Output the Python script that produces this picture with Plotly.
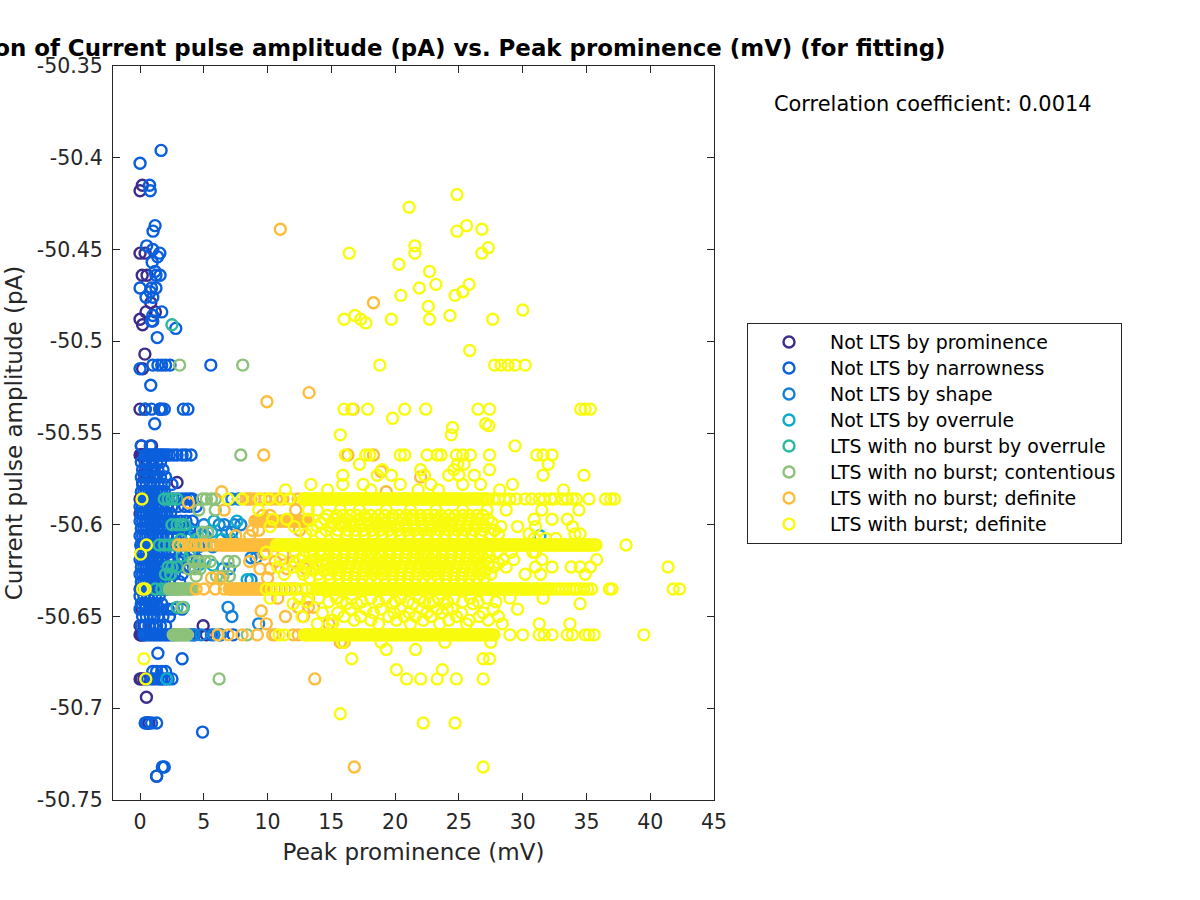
import plotly.graph_objects as go

class_names = ["Not LTS by prominence", "Not LTS by narrowness", "Not LTS by shape", "Not LTS by overrule",
               "LTS with no burst by overrule", "LTS with no burst; contentious", "LTS with no burst; definite",
               "LTS with burst; definite"]
class_colors = ["#3B2C8E", "#0A5FDC", "#1580D8", "#0CACCC", "#2EB8A0", "#8CC27A", "#FDBD3C", "#F9FB0E"]
x_ticks = [0, 5, 10, 15, 20, 25, 30, 35, 40, 45]
y_ticks = [-50.75, -50.7, -50.65, -50.6, -50.55, -50.5, -50.45, -50.4, -50.35]
y_tick_labels = ["-50.75", "-50.7", "-50.65", "-50.6", "-50.55", "-50.5", "-50.45", "-50.4", "-50.35"]

prominence_rows = {
    -50.415: [0.18], -50.418: [0.0], -50.452: [0.0, 0.4], -50.464: [0.17, 0.55], -50.479: [0.84],
    -50.484: [0.47, 1.2], -50.488: [0.0], -50.491: [0.2], -50.507: [0.38], -50.515: [0.2],
    -50.537: [0.0, 0.4, 1.57], -50.557: [0.1, 0.9], -50.562: [0.0, 0.05, 0.1, 0.2, 0.3],
    -50.568: [0.5, 1.0], -50.572: [0.3, 1.2], -50.577: [0.2, 0.8, 2.9], -50.586: [0.0, 0.05, 0.1],
    -50.594: [0.0, 0.2], -50.635: [0.0, 0.1], -50.645: [0.1, 0.4], -50.655: [0.0, 0.3, 4.95],
    -50.66: [0.0, 0.05, 0.1, 0.2, 0.3, 5.2], -50.684: [0.0, 0.1, 0.3, 0.5, 1.7], -50.694: [0.5],
    -50.708: [0.55, 0.7], -50.737: [1.3],
}
narrow_rows = {
    -50.396: [1.65], -50.403: [0.0], -50.415: [0.75], -50.418: [0.8], -50.437: [1.18], -50.44: [1.02],
    -50.448: [0.52], -50.45: [1.0], -50.452: [1.55], -50.454: [1.38], -50.457: [0.95], -50.462: [1.18],
    -50.464: [1.25, 1.57], -50.471: [0.0, 0.9, 1.25], -50.473: [0.8], -50.476: [0.47, 1.0], -50.484: [1.7],
    -50.486: [1.0], -50.489: [1.0, 0.9], -50.493: [2.8], -50.498: [1.35], -50.513: [1.0, 1.4, 1.7, 2.0, 2.35, 5.55],
    -50.515: [0.0], -50.524: [0.84], -50.537: [0.4, 0.9, 1.55, 1.7, 1.9, 3.4, 3.75], -50.545: [1.15],
    -50.557: [0.1, 0.8],
    -50.562: [0.4, 0.55, 0.7, 0.85, 1.0, 1.15, 1.3, 1.45, 1.6, 1.75, 1.9, 2.1, 2.3, 2.6, 2.9, 3.3, 3.6, 4.0],
    -50.566: [0.1, 0.4, 0.7, 1.0, 1.3, 1.6], -50.57: [0.2, 0.5, 0.8, 1.1, 1.4, 1.8],
    -50.574: [0.1, 0.4, 0.7, 1.0, 1.3, 1.6, 2.0], -50.578: [0.2, 0.5, 0.8, 1.1, 1.4, 1.9, 2.5],
    -50.582: [0.1, 0.3, 0.5, 0.7, 0.9, 1.1, 1.3, 1.5, 1.7, 1.9],
    -50.586: [0.2, 0.35, 0.5, 0.65, 0.8, 0.95, 1.1, 1.25, 1.4, 1.55, 1.7, 1.85, 2.0, 2.2, 2.6, 3.0, 3.3, 3.6, 3.9, 4.1],
    -50.59: [0.0, 0.2, 0.4, 0.6, 0.8, 1.0, 1.2, 1.4, 1.6, 1.8, 2.1, 2.5, 3.0, 3.5, 3.9, 4.4],
    -50.594: [0.1, 0.3, 0.5, 0.7, 0.9, 1.1, 1.3, 1.5, 1.7, 1.9, 2.1, 2.4],
    -50.598: [0.0, 0.2, 0.4, 0.6, 0.8, 1.0, 1.2, 1.4, 1.6, 1.8, 2.0, 2.3, 2.7, 3.2, 3.6, 4.1],
    -50.602: [0.1, 0.3, 0.5, 0.7, 0.9, 1.1, 1.3, 1.5, 1.7, 1.9, 2.2, 2.6, 3.0, 3.4, 3.9],
    -50.606: [0.0, 0.2, 0.4, 0.6, 0.8, 1.0, 1.2, 1.4, 1.6, 1.8, 2.1, 2.6, 3.0, 3.6, 4.0],
    -50.611: [0.05, 0.2, 0.35, 0.5, 0.65, 0.8, 0.95, 1.1, 1.25, 1.4, 1.55, 1.7, 1.85, 2.0, 2.2],
    -50.615: [0.1, 0.3, 0.5, 0.7, 0.9, 1.1, 1.3, 1.5, 1.7, 1.9, 2.3, 2.8, 3.4, 4.2],
    -50.619: [0.0, 0.2, 0.4, 0.6, 0.8, 1.0, 1.2, 1.4, 1.6, 1.8, 2.2, 2.6, 3.2, 3.8, 4.5],
    -50.623: [0.1, 0.3, 0.5, 0.7, 0.9, 1.1, 1.3, 1.5, 1.7, 1.9, 2.3, 2.8, 3.5, 3.9, 4.2],
    -50.627: [0.0, 0.2, 0.4, 0.6, 0.8, 1.0, 1.2, 1.4, 1.6, 1.8, 2.2, 2.7, 3.3],
    -50.631: [0.1, 0.3, 0.5, 0.7, 0.9, 1.1, 1.3, 1.5, 1.7, 1.9, 2.3, 3.1],
    -50.635: [0.05, 0.2, 0.35, 0.5, 0.65, 0.8, 0.95, 1.1, 1.25, 1.4, 1.55, 1.7, 1.85, 2.0, 2.2],
    -50.639: [0.0, 0.3, 0.6, 0.9, 1.2, 1.5], -50.643: [0.1, 0.4, 0.7, 1.0, 1.3, 1.7],
    -50.646: [0.0, 0.4, 0.8, 1.2, 1.6, 2.2, 2.6, 3.3],
    -50.65: [0.2, 0.5, 0.8, 1.1, 1.4, 1.8, 2.3], -50.655: [0.1, 0.4, 0.7, 1.0, 1.3, 1.6, 2.0],
    -50.66: [0.3, 0.45, 0.6, 0.75, 0.9, 1.05, 1.2, 1.35, 1.5, 1.65, 1.8, 1.95, 2.1, 2.25, 2.4, 2.6, 3.9, 4.1, 4.3, 5.6, 6.3, 7.3],
    -50.67: [1.4], -50.673: [3.3], -50.68: [1.0, 1.3, 1.7, 2.0],
    -50.684: [0.6, 0.9, 1.1, 1.4, 1.6, 1.9, 2.2, 2.5], -50.708: [0.4, 0.55, 0.9, 1.3], -50.713: [4.9],
    -50.732: [1.75, 1.9], -50.737: [1.3],
}
shape_rows = {
    -50.586: [7.2, 7.7], -50.6: [5.0, 6.2, 6.6, 7.4, 7.9], -50.604: [5.3, 6.8, 7.2], -50.606: [4.8, 5.1],
    -50.612: [4.6, 5.7], -50.618: [8.7, 9.1], -50.624: [6.5, 7.0], -50.63: [8.7], -50.645: [6.9], -50.65: [7.2],
    -50.654: [9.3], -50.66: [4.2, 4.8, 5.8, 6.3],
}
overrule_rows = {
    -50.606: [31.35], -50.598: [5.8, 7.6], -50.608: [6.4, 7.2], -50.604: [4.3, 5.6],
    -50.622: [4.6, 5.7], -50.63: [8.4], -50.684: [2.1],
}
no_burst_overrule_rows = {
    -50.491: [2.5], -50.586: [1.9, 2.2, 2.5, 2.9], -50.6: [2.5, 2.9, 3.2, 3.5], -50.611: [1.5, 1.9, 2.3, 2.7, 3.0],
    -50.623: [2.2, 2.5, 2.9], -50.627: [2.0, 2.4], -50.635: [1.2, 1.7, 2.1, 2.5, 2.9], -50.645: [2.9, 3.4],
    -50.608: [3.2, 4.4], -50.617: [3.3, 3.9],
}
contentious_rows = {
    -50.513: [3.1, 8.05], -50.562: [7.9], -50.586: [4.9, 5.2, 5.6, 5.9], -50.592: [4.6, 5.9], -50.604: [4.9, 5.3],
    -50.611: [3.0, 3.4, 3.9, 4.2, 5.0], -50.62: [4.2, 4.6, 5.1, 5.5, 6.9, 7.4], -50.624: [3.8, 4.3, 4.7],
    -50.628: [4.4, 6.0, 6.5, 7.0], -50.635: [2.3, 2.45, 2.6, 2.75, 2.9, 3.05, 3.2, 3.35, 3.5, 3.65, 3.8, 3.95, 4.1],
    -50.645: [3.3], -50.66: [2.6, 2.7, 2.8, 2.9, 3.0, 3.1, 3.2, 3.3, 3.4, 3.5, 3.6, 3.7, 8.4], -50.684: [6.2],
}
no_burst_definite_rows = {
    -50.439: [11.0], -50.479: [18.3], -50.528: [13.25], -50.533: [9.95], -50.537: [16.7], -50.562: [9.7, 16.3, 18.3],
    -50.571: [18.9], -50.574: [22.0], -50.582: [6.4, 19.3],
    -50.586: [8.3, 8.5, 8.7, 9.0, 9.4, 9.8, 10.3, 10.7, 11.2, 11.8, 12.4, 12.9],
    -50.588: [3.8], -50.592: [6.6, 12.2], -50.595: [9.6, 10.2],
    -50.598: [9.0, 9.15, 9.3, 9.45, 9.6, 9.75, 9.9, 10.05, 10.2, 10.35, 10.5, 10.65, 10.8, 10.95, 11.1, 11.25, 11.4, 11.55,
              11.7, 11.85, 12.0, 12.15, 12.3, 12.45, 12.6, 12.75, 12.9, 13.05],
    -50.603: [8.8, 9.3, 12.5],
    -50.606: [7.5, 8.6],
    -50.611: [3.0, 3.4, 3.8, 4.0, 4.4, 4.8, 5.2, 5.6, 6.0, 6.3, 6.45, 6.6, 6.75, 6.9, 7.05, 7.2, 7.35, 7.5, 7.65, 7.8, 7.95, 8.1, 8.25, 8.4,
              8.55, 8.7, 8.85, 9.0, 9.15, 9.3, 9.45, 9.6, 9.75, 9.9, 10.05, 10.2, 10.35, 10.5, 10.65, 11.0, 11.6, 12.4, 12.8, 13.2],
    -50.616: [9.7, 11.2], -50.62: [8.6, 10.6, 12.0], -50.624: [9.4, 10.2, 11.5, 13.0, 13.6], -50.629: [5.6, 6.3, 10.0],
    -50.635: [4.4, 5.0, 5.9, 6.6, 7.0, 7.15, 7.3, 7.45, 7.6, 7.75, 7.9, 8.05, 8.2, 8.35, 8.5, 8.65, 8.8, 8.95, 9.1, 9.25, 9.4,
              9.55, 9.7, 9.9, 10.2, 10.6, 11.0, 11.4, 11.8, 12.2],
    -50.64: [10.8, 13.2], -50.645: [12.4, 13.2, 13.6], -50.647: [9.5], -50.65: [11.4, 12.8], -50.654: [9.9, 14.8],
    -50.66: [6.1, 6.9, 8.0, 9.2, 10.4, 10.6, 12.0, 12.4, 13.0], -50.664: [15.7, 16.0], -50.684: [13.7],
    -50.732: [16.8],
}
burst_rows = {
    -50.42: [24.85], -50.427: [21.1], -50.437: [25.6], -50.439: [26.8], -50.44: [24.85], -50.448: [21.55], -50.449: [27.3],
    -50.452: [16.4, 21.55, 26.8], -50.458: [20.3], -50.462: [22.7], -50.469: [23.2, 25.8], -50.471: [21.9], -50.473: [25.3],
    -50.475: [20.45, 24.7], -50.481: [22.6], -50.483: [30.0], -50.486: [16.85, 24.3], -50.488: [16.0, 17.3, 19.7, 22.7, 27.65],
    -50.49: [17.7], -50.505: [25.85], -50.513: [18.8, 27.8, 28.3, 28.85, 29.4, 30.2],
    -50.537: [16.0, 16.6, 17.85, 20.75, 22.4, 26.5, 27.4, 34.55, 34.9, 35.3], -50.542: [19.8], -50.545: [27.1], -50.546: [27.35],
    -50.547: [24.5], -50.551: [15.7, 24.4], -50.557: [29.4],
    -50.562: [16.1, 17.7, 18.0, 20.4, 20.75, 22.5, 23.3, 23.6, 24.8, 25.3, 25.9, 27.4, 31.1, 31.6, 32.3],
    -50.567: [17.2, 24.9, 25.4, 32.0], -50.57: [19.0, 22.0, 24.6, 27.4],
    -50.573: [15.9, 18.6, 19.7, 22.3, 24.2, 25.0, 26.2, 31.6, 34.8], -50.578: [13.4, 15.9, 17.5, 20.4, 22.8, 25.3, 26.7, 29.2],
    -50.581: [11.4, 14.7, 18.1, 21.8, 23.4, 28.2, 33.2],
    -50.586: [0.15, 6.9, 8.0, 9.4, 10.1, 11.0, 11.7, 12.8, 12.95, 13.1, 13.25, 13.4, 13.55, 13.7, 13.85, 14.0, 14.15, 14.3, 14.45, 14.6, 14.75,
              14.9, 15.05, 15.2, 15.35, 15.5, 15.65, 15.8, 15.95, 16.1, 16.25, 16.4, 16.55, 16.7, 16.85, 17.0, 17.15, 17.3, 17.45,
              17.6, 17.75, 17.9, 18.05, 18.2, 18.35, 18.5, 18.65, 18.8, 18.95, 19.1, 19.25, 19.4, 19.55, 19.7, 19.85, 20.0, 20.15,
              20.3, 20.45, 20.6, 20.75, 20.9, 21.05, 21.2, 21.35, 21.5, 21.65, 21.8, 21.95, 22.1, 22.25, 22.4, 22.55, 22.7, 22.85,
              23.0, 23.15, 23.3, 23.45, 23.6, 23.75, 23.9, 24.05, 24.2, 24.35, 24.5, 24.65, 24.8, 24.95, 25.1, 25.3, 25.5, 25.7,
              25.9, 26.1, 26.3, 26.5, 26.7, 26.9, 27.1, 27.3, 27.7, 28.1, 28.6, 29.0, 29.5, 30.2, 30.7, 31.3, 31.7, 32.2, 32.5,
              33.1, 33.5, 33.9, 34.2, 35.2, 36.5, 36.9, 37.2],
    -50.592: [9.3, 13.2, 13.9, 15.7, 17.2, 19.3, 21.2, 23.2, 25.3, 27.2, 28.7, 31.5, 34.4],
    -50.595: [14.7, 15.4, 15.9, 16.5, 17.0, 17.6, 18.1, 18.7, 19.2, 19.8, 20.3, 20.9, 21.4, 22.0, 22.5, 23.1, 23.6, 24.2, 24.7, 25.3, 25.8, 26.4, 26.9],
    -50.597: [10.4, 11.5, 13.2, 14.5, 15.3, 16.2, 17.1, 17.8, 18.4, 19.0, 19.8, 20.6, 21.3, 22.0, 22.6, 23.3, 23.9, 24.5, 25.2, 25.9,
              26.5, 27.3, 30.9, 32.3, 33.5],
    -50.599: [14.2, 15.0, 15.6, 16.1, 16.7, 17.3, 17.9, 18.5, 19.1, 19.7, 20.3, 20.9, 21.5, 22.1, 22.7, 23.3, 23.9, 24.5, 25.1, 25.7, 26.3, 26.9, 27.6],
    -50.601: [10.2, 12.1, 13.9, 15.0, 15.9, 16.6, 17.3, 18.0, 18.7, 19.4, 20.1, 20.8, 21.5, 22.2, 22.9, 23.6, 24.3, 25.0, 25.7, 26.4,
              27.0, 28.3, 29.6, 31.0, 33.9],
    -50.603: [13.5, 14.6, 15.5, 16.3, 16.9, 17.5, 18.2, 18.8, 19.5, 20.2, 20.9, 21.5, 22.2, 22.8, 23.5, 24.2, 24.9, 25.5, 26.2, 26.9, 27.8],
    -50.605: [13.0, 14.2, 15.4, 16.2, 16.9, 17.6, 18.3, 19.0, 19.7, 20.4, 21.1, 21.8, 22.5, 23.2, 23.9, 24.6, 25.3, 26.0, 26.7, 27.5,
              28.1, 30.5, 34.1, 34.5],
    -50.6075: [30.9, 31.8, 32.6],
    -50.611: [0.5, 10.7, 10.85, 11.0, 11.15, 11.3, 11.45, 11.6, 11.75, 11.9, 12.05, 12.2, 12.35, 12.5, 12.65, 12.8, 12.95, 13.1, 13.25, 13.4, 13.55, 13.7,
              13.85, 14.0, 14.15, 14.3, 14.45, 14.6, 14.75, 14.9, 15.05, 15.2, 15.35, 15.5, 15.65, 15.8, 15.95, 16.1, 16.25,
              16.4, 16.55, 16.7, 16.85, 17.0, 17.15, 17.3, 17.45, 17.6, 17.75, 17.9, 18.05, 18.2, 18.35, 18.5, 18.65, 18.8, 18.95,
              19.1, 19.25, 19.4, 19.55, 19.7, 19.85, 20.0, 20.15, 20.3, 20.45, 20.6, 20.75, 20.9, 21.05, 21.2, 21.35, 21.5, 21.65,
              21.8, 21.95, 22.1, 22.25, 22.4, 22.55, 22.7, 22.85, 23.0, 23.15, 23.3, 23.45, 23.6, 23.75, 23.9, 24.05, 24.2, 24.35,
              24.5, 24.65, 24.8, 24.95, 25.1, 25.25, 25.4, 25.55, 25.7, 25.85, 26.0, 26.15, 26.3, 26.45, 26.6, 26.75, 26.9, 27.05,
              27.2, 27.35, 27.5, 27.65, 27.8, 27.95, 28.1, 28.25, 28.4, 28.55, 28.7, 28.85, 29.0, 29.15, 29.3, 29.45, 29.6, 29.75,
              29.9, 30.05, 30.2, 30.35, 30.5, 30.65, 30.8, 30.95, 31.1, 31.25, 31.4, 31.55, 31.7, 31.85, 32.0, 32.15, 32.3, 32.45,
              32.6, 32.75, 32.9, 33.05, 33.2, 33.35, 33.5, 33.65, 33.8, 33.95, 34.1, 34.25, 34.4, 34.55, 34.7, 34.85, 35.0, 35.15,
              35.3, 35.45, 35.6, 35.75, 38.1],
    -50.615: [9.9, 12.2, 13.3, 14.4, 15.3, 16.0, 16.7, 17.4, 18.1, 18.8, 19.5, 20.2, 20.9, 21.6, 22.3, 23.0, 23.7, 24.4, 25.1, 25.8,
              26.5, 27.2, 28.0, 29.1, 30.8, 31.0],
    -50.616: [0.05],
    -50.617: [12.8, 13.6, 14.2, 14.8, 15.4, 16.0, 16.6, 17.2, 17.8, 18.4, 19.0, 19.6, 20.2, 20.8, 21.4, 22.0, 22.6, 23.2, 23.8, 24.4, 25.0, 25.6, 26.2, 26.8, 27.4],
    -50.619: [11.0, 12.5, 13.6, 14.5, 15.2, 15.9, 16.6, 17.3, 18.0, 18.7, 19.4, 20.1, 20.8, 21.5, 22.2, 22.9, 23.6, 24.3, 25.0, 25.7,
              26.4, 27.1, 28.5, 29.3, 31.5, 35.8],
    -50.621: [12.2, 13.1, 13.9, 14.6, 15.3, 15.9, 16.5, 17.1, 17.7, 18.3, 18.9, 19.5, 20.1, 20.7, 21.3, 21.9, 22.5, 23.1, 23.7, 24.3, 24.9, 25.5, 26.1, 26.7, 27.3, 28.1],
    -50.623: [10.8, 12.0, 13.0, 14.0, 14.9, 15.6, 16.3, 17.0, 17.7, 18.4, 19.1, 19.8, 20.5, 21.2, 21.9, 22.6, 23.3, 24.0, 24.7, 25.4,
              26.1, 26.8, 27.7, 28.7, 31.0, 32.3, 33.8, 34.5, 35.3, 41.4],
    -50.625: [12.7, 13.6, 14.4, 15.1, 15.7, 16.3, 16.9, 17.5, 18.1, 18.7, 19.3, 19.9, 20.5, 21.1, 21.7, 22.3, 22.9, 23.5, 24.1, 24.7, 25.3, 25.9, 26.5, 27.1],
    -50.627: [11.3, 12.8, 14.0, 14.8, 15.5, 16.2, 16.9, 17.6, 18.3, 19.0, 19.7, 20.4, 21.1, 21.8, 22.5, 23.2, 23.9, 24.6, 25.3, 26.0,
              26.7, 27.5, 30.2, 31.4, 34.9],
    -50.629: [13.3, 14.1, 14.9, 15.6, 16.2, 16.8, 17.4, 18.0, 18.6, 19.2, 19.8, 20.4, 21.0, 21.6, 22.2, 22.8, 23.4, 24.0, 24.6, 25.2, 25.8, 26.4, 27.0],
    -50.635: [0.4, 0.2, 9.9, 10.3, 10.7, 11.1, 11.5, 11.9, 12.3, 12.7, 13.1, 13.5, 13.8, 13.95, 14.1, 14.25, 14.4, 14.55, 14.7, 14.85, 15.0, 15.15,
              15.3, 15.45, 15.6, 15.75, 15.9, 16.05, 16.2, 16.35, 16.5, 16.65, 16.8, 16.95, 17.1, 17.25, 17.4, 17.55, 17.7, 17.85,
              18.0, 18.15, 18.3, 18.45, 18.6, 18.75, 18.9, 19.05, 19.2, 19.35, 19.5, 19.65, 19.8, 19.95, 20.1, 20.25, 20.4, 20.55,
              20.7, 20.85, 21.0, 21.15, 21.3, 21.45, 21.6, 21.75, 21.9, 22.05, 22.2, 22.35, 22.5, 22.65, 22.8, 22.95, 23.1, 23.25,
              23.4, 23.55, 23.7, 23.85, 24.0, 24.15, 24.3, 24.45, 24.6, 24.75, 24.9, 25.05, 25.2, 25.35, 25.5, 25.65, 25.8, 25.95,
              26.1, 26.25, 26.4, 26.55, 26.7, 26.85, 27.0, 27.15, 27.3, 27.45, 27.6, 27.75, 27.9, 28.05, 28.2, 28.35, 28.5, 28.65,
              28.8, 28.95, 29.1, 29.25, 29.4, 29.55, 29.7, 29.85, 30.0, 30.15, 30.3, 30.45, 30.6, 30.8, 31.0, 31.2, 31.4, 31.6,
              31.8, 32.0, 32.2, 32.5, 32.8, 33.1, 33.4, 33.7, 34.0, 34.2, 34.5, 34.8, 35.1, 35.4, 36.8, 37.0, 41.8, 42.3],
    -50.64: [10.2, 12.5, 14.0, 15.4, 16.6, 18.1, 19.3, 20.4, 21.9, 23.4, 24.6, 25.9, 27.2, 29.0, 31.6],
    -50.642: [13.1, 14.8, 15.8, 17.4, 18.7, 20.0, 21.0, 22.3, 23.0, 24.1, 25.3, 26.5, 27.9],
    -50.643: [34.5, 12.0, 16.2, 17.0, 19.8, 21.4, 22.7, 23.8, 26.1],
    -50.646: [16.5, 17.7, 18.9, 20.4, 22.1, 23.3, 24.1, 24.5, 27.7, 29.6],
    -50.648: [14.3, 15.5, 18.3, 19.9, 21.1, 22.5, 23.7, 25.2, 26.9],
    -50.65: [12.7, 16.0, 17.3, 19.5, 20.7, 21.6, 22.8, 24.8, 26.6, 28.1],
    -50.652: [15.1, 16.8, 18.1, 20.1, 22.2, 24.2, 25.8, 27.3],
    -50.654: [13.9, 15.1, 18.7, 21.2, 23.5, 25.6, 28.4, 31.3, 33.7],
    -50.66: [10.9, 11.3, 12.9, 13.05, 13.2, 13.35, 13.5, 13.65, 13.8, 13.95, 14.1, 14.25, 14.4, 14.55, 14.7, 14.85, 15.0, 15.15, 15.3, 15.45,
             15.6, 15.75, 15.9, 16.05, 16.2, 16.35, 16.5, 16.65, 16.8, 16.95, 17.1, 17.25, 17.4, 17.55, 17.7, 17.85, 18.0, 18.15,
             18.3, 18.45, 18.6, 18.75, 18.9, 19.05, 19.2, 19.35, 19.5, 19.65, 19.8, 19.95, 20.1, 20.25, 20.4, 20.55, 20.7, 20.85,
             21.0, 21.15, 21.3, 21.45, 21.6, 21.75, 21.9, 22.05, 22.2, 22.35, 22.5, 22.65, 22.8, 22.95, 23.1, 23.25, 23.4, 23.55,
             23.7, 23.85, 24.0, 24.15, 24.3, 24.45, 24.6, 24.75, 24.9, 25.05, 25.2, 25.35, 25.5, 25.65, 25.8, 25.95, 26.1, 26.25,
             26.4, 26.55, 26.7, 26.85, 27.0, 27.15, 27.3, 27.45, 27.6, 27.75, 29.0, 30.0, 31.3, 31.7, 32.3, 33.5, 33.9, 34.9,
             35.2, 35.6, 39.5],
    -50.664: [15.9, 18.9, 23.9, 27.5], -50.668: [19.3, 21.6],
    -50.673: [16.6, 26.9, 27.4, 0.3], -50.679: [20.1, 23.7], -50.684: [0.45, 20.9, 22.0, 23.3, 24.8, 26.9],
    -50.703: [15.7], -50.708: [22.2, 24.7], -50.732: [26.9],
}


def flatten(rows):
    xs, ys = [], []
    for level, values in rows.items():
        xs.extend(values)
        ys.extend([level] * len(values))
    return xs, ys


all_rows = [prominence_rows, narrow_rows, shape_rows, overrule_rows, no_burst_overrule_rows, contentious_rows,
            no_burst_definite_rows, burst_rows]

fig = go.Figure()
for name, color, rows in zip(class_names, class_colors, all_rows):
    xs, ys = flatten(rows)
    fig.add_trace(go.Scatter(x=xs, y=ys, mode="markers",
                             name="<span style='font-size:18.9px'>" + name + "</span>",
                             marker=dict(symbol="circle-open", size=11, color=color, line=dict(width=2.4, color=color))))

ink = "#262626"
axis_style = dict(showgrid=False, zeroline=False, showline=True, linecolor=ink, linewidth=1, mirror="ticks",
                  ticks="inside", ticklen=7, tickcolor=ink, tickwidth=1,
                  tickfont=dict(size=20.5, color=ink, family="DejaVu Sans"))
fig.update_layout(
    width=1200, height=900, paper_bgcolor="white", plot_bgcolor="white",
    margin=dict(l=113, r=486, t=66, b=100, autoexpand=False),
    font=dict(family="DejaVu Sans", color="black"),
    title=dict(text="<b>Correlation of Current pulse amplitude (pA) vs. Peak prominence (mV) (for fitting)</b>",
               x=413.5 / 1200, xanchor="center", y=1 - 48 / 900, yanchor="middle", font=dict(size=22.9, color="black")),
    xaxis=dict(range=[-2.12, 45], tickvals=x_ticks, ticklabelstandoff=3,
               title=dict(text="Peak prominence (mV)", font=dict(size=23, color=ink), standoff=11), **axis_style),
    yaxis=dict(range=[-50.75, -50.35], tickvals=y_ticks, ticktext=y_tick_labels, ticklabelstandoff=5,
               title=dict(text="Current pulse amplitude (pA)", font=dict(size=23, color=ink), standoff=7), **axis_style),
    legend=dict(x=(747 - 113) / 601, xanchor="left", y=(800 - 323) / 734, yanchor="top", bordercolor=ink, borderwidth=1,
                bgcolor="white", font=dict(size=17.7, color="black"), itemwidth=72, entrywidth=293, entrywidthmode="pixels",
                traceorder="normal", itemclick=False),
    annotations=[dict(text="Correlation coefficient: 0.0014", xref="paper", yref="paper", x=(933.5 - 113) / 601,
                      y=(800 - 104) / 734, xanchor="center", yanchor="middle", showarrow=False,
                      font=dict(size=20.9, color="black"))],
    showlegend=True,
)
fig.write_html("out.html", post_script="document.body.style.margin='0';", config=dict(displayModeBar=False))
